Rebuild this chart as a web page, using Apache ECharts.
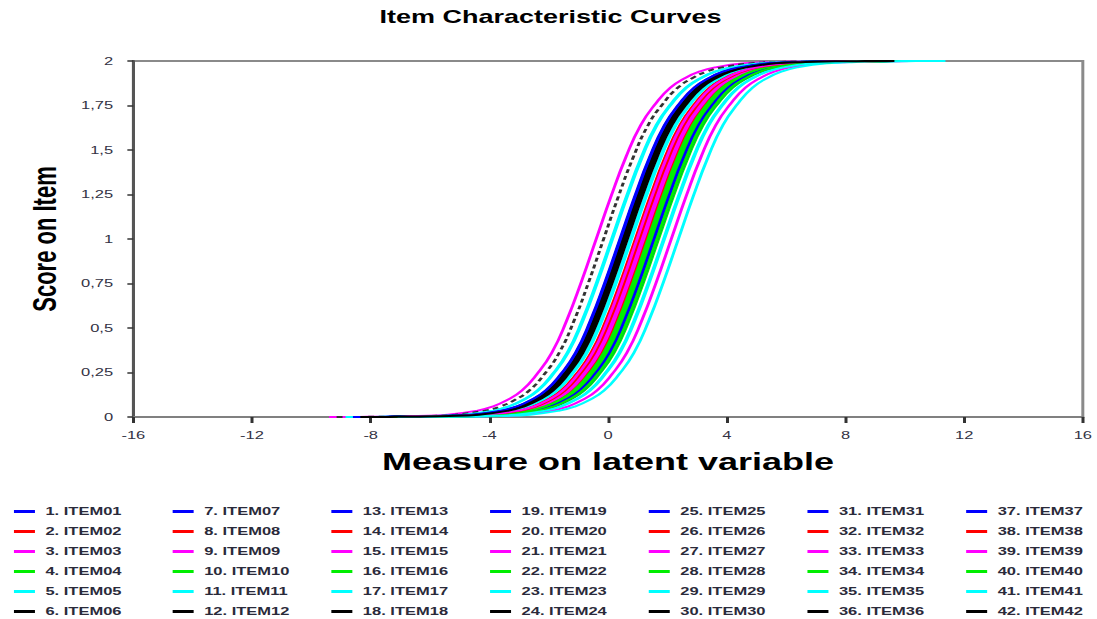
<!DOCTYPE html>
<html>
<head>
<meta charset="utf-8">
<title>Item Characteristic Curves</title>
<script src="https://cdn.jsdelivr.net/npm/echarts@6/dist/echarts.min.js"></script>
<style>
  html, body { margin: 0; padding: 0; background: #fff; overflow: hidden; }
  /* the source picture is stretched sideways, so draw narrow and widen it */
  #icc-chart { width: 731px; height: 619px; transform: scaleX(1.5); transform-origin: 0 0; }
</style>
</head>
<body>
<div id="icc-chart"></div>
<script>
const xTicks = [-16, -12, -8, -4, 0, 4, 8, 12, 16];
const yTicks = [0, 0.25, 0.5, 0.75, 1, 1.25, 1.5, 1.75, 2];

const itemNames = [
    "1. ITEM01", "2. ITEM02", "3. ITEM03", "4. ITEM04", "5. ITEM05", "6. ITEM06",
    "7. ITEM07", "8. ITEM08", "9. ITEM09", "10. ITEM10", "11. ITEM11", "12. ITEM12",
    "13. ITEM13", "14. ITEM14", "15. ITEM15", "16. ITEM16", "17. ITEM17", "18. ITEM18",
    "19. ITEM19", "20. ITEM20", "21. ITEM21", "22. ITEM22", "23. ITEM23", "24. ITEM24",
    "25. ITEM25", "26. ITEM26", "27. ITEM27", "28. ITEM28", "29. ITEM29", "30. ITEM30",
    "31. ITEM31", "32. ITEM32", "33. ITEM33", "34. ITEM34", "35. ITEM35", "36. ITEM36",
    "37. ITEM37", "38. ITEM38", "39. ITEM39", "40. ITEM40", "41. ITEM41", "42. ITEM42"
];

// colours repeat every six items: blue, red, magenta, green, cyan, black
const palette = ["#0000ff", "#ff0000", "#ff00ff", "#00ee00", "#00ffff", "#000000"];

// where each curve crosses score 1
const itemLocations = [
    0.45, 0.92, 1.05, 1.46, 0.12, 0.58,
    1.60, 1.36, -0.40, 1.70, 0.79, -0.15,
    0.42, 1.00, 1.15, 1.52, 1.87, 0.62,
    1.65, 1.30, 2.13, 1.42, 2.37, 0.55,
    0.50, 0.95, 1.10, 1.60, 0.15, 0.60,
    1.55, 1.25, 1.20, 1.35, 0.75, 0.52,
    0.40, 1.05, 0.98, 1.65, 1.90, 0.65
];

// shape of one curve: distance from its location vs expected score
const curveOffsets = [-9, -8, -7, -6, -5, -4, -3.5, -3, -2.5, -2, -1.5, -1, -0.5, 0,
    0.5, 1, 1.5, 2, 2.5, 3, 3.5, 4, 5, 6, 7, 8, 9];
const curveScores = [0.0002, 0.0007, 0.002, 0.005, 0.013, 0.036, 0.058, 0.095, 0.15, 0.24, 0.36, 0.54, 0.76, 1.0,
    1.24, 1.46, 1.64, 1.76, 1.85, 1.905, 1.942, 1.964, 1.987, 1.995, 1.998, 1.9993, 1.9998];

const dashedItems = ["12. ITEM12"];

const chart = echarts.init(document.getElementById("icc-chart"), null, { renderer: "svg" });

const labelFont = "'Liberation Sans', Arial, sans-serif";

const series = itemNames.map((name, i) => {
    const color = palette[i % palette.length];
    const dashed = dashedItems.includes(name);
    return {
        type: "line",
        name: name,
        data: curveOffsets.map((d, k) => [itemLocations[i] + d, curveScores[k]]),
        symbol: "none",
        smooth: true,
        animation: false,
        lineStyle: { width: 2, color: dashed ? "#333" : color, type: dashed ? [4, 3] : "solid" },
        itemStyle: { color: color }
    };
});

const legends = [];
for (let c = 0; c < 7; c++) {
    legends.push({
        orient: "vertical",
        left: 9.3 + c * 105.8,
        top: 505.5,
        padding: 0,
        icon: "rect",
        itemWidth: 14,
        itemHeight: 3,
        itemGap: 8,
        selectedMode: false,
        data: itemNames.slice(c * 6, c * 6 + 6),
        textStyle: { fontSize: 11, fontWeight: "bold", fontFamily: labelFont, color: "#2a2a3a", lineHeight: 12, padding: [0, 0, 0, 2] }
    });
}

chart.setOption({
    backgroundColor: "#fff",
    animation: false,
    title: {
        text: "Item Characteristic Curves",
        left: 253,
        top: 8,
        padding: 0,
        textStyle: { fontSize: 18, fontWeight: "bold", fontFamily: labelFont, color: "#000" }
    },
    legend: legends,
    grid: {
        left: 88.9, right: 7.7, top: 61, bottom: 202,
        show: true, borderColor: "#8a8a8a", borderWidth: 2
    },
    xAxis: {
        type: "value",
        min: xTicks[0],
        max: xTicks[xTicks.length - 1],
        interval: xTicks[1] - xTicks[0],
        name: "Measure on latent variable",
        nameLocation: "middle",
        nameGap: 32,
        nameTextStyle: { fontSize: 24, fontWeight: "bold", fontFamily: labelFont, color: "#000" },
        splitLine: { show: false },
        axisLine: { onZero: false, lineStyle: { color: "#808080", width: 2 } },
        axisTick: { length: 6, lineStyle: { color: "#333", width: 2 } },
        axisLabel: { margin: 13, fontSize: 11, fontFamily: labelFont, color: "#333344" }
    },
    yAxis: {
        type: "value",
        min: yTicks[0],
        max: yTicks[yTicks.length - 1],
        interval: yTicks[1] - yTicks[0],
        name: "Score on Item",
        nameLocation: "middle",
        nameGap: 48,
        nameTextStyle: { fontSize: 22, fontWeight: "bold", fontFamily: labelFont, color: "#000" },
        splitLine: { show: false },
        axisLine: { show: true, onZero: false, lineStyle: { color: "#555", width: 2 } },
        axisTick: { show: true, length: 4, lineStyle: { color: "#333", width: 1.5 } },
        axisLabel: {
            margin: 13.5, fontSize: 11, fontFamily: labelFont, color: "#333344",
            formatter: v => String(v).replace(".", ",")
        }
    },
    series: series
});
</script>
</body>
</html>
